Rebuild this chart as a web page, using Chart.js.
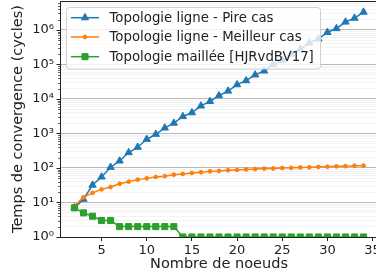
<!DOCTYPE html>
<html><head><meta charset="utf-8">
<script src="https://cdn.jsdelivr.net/npm/chart.js@4.4.1/dist/chart.umd.min.js"></script>
<style>
html,body{margin:0;padding:0;overflow:hidden;background:#fff;width:376px;height:280px}
#wrap{position:absolute;left:0;top:0;width:378px;height:280px}
</style>
</head><body>
<div id="wrap"><canvas id="c" width="378" height="280"></canvas></div>
<script>
const nodes = [2,3,4,5,6,7,8,9,10,11,12,13,14,15,16,17,18,19,20,21,22,23,24,25,26,27,28,29,30,31,32,33,34];
const worstCase = [7,12.5,32,55,105,160,280,400,680,950,1450,2000,3100,4000,6300,8500,12500,17000,26000,34000,50000,65000,100000,130000,200000,280000,420000,550000,850000,1100000,1700000,2200000,3300000];
const bestCase = [8,14,19,24,28,35,40,46,50,55,58,64,67,72,75,80,82,86,88,91,93,96,97,100,101,104,105,108,109,112,113,116,117];
const meshed = [7,5,4,3,3,2,2,2,2,2,2,2,1,1,1,1,1,1,1,1,1,1,1,1,1,1,1,1,1,1,1,1,1];
const seriesLabels = ['Topologie ligne - Pire cas','Topologie ligne - Meilleur cas','Topologie maillée [HJRvdBV17]'];
const xTicks = [5,10,15,20,25,30,35];
const yDecades = [0,1,2,3,4,5,6];
const xTitle = 'Nombre de noeuds';
const yTitle = 'Temps de convergence (cycles)';

const colors = ['#1f77b4','#ff7f0e','#2ca02c'];
const styles = ['triangle','circle','rect'];
const radii = [4.2,1.9,4.3];
const SUP = {'0':'⁰','1':'¹','2':'²','3':'³','4':'⁴','5':'⁵','6':'⁶','7':'⁷','8':'⁸','9':'⁹'};
const isPow10 = v => Math.abs(Math.log10(v) - Math.round(Math.log10(v))) < 1e-9;

Chart.defaults.font.family = 'DejaVu Sans';
Chart.defaults.color = '#222';

const minorTicks = [];
for (const d of yDecades) for (let m = 1; m <= 9; m++) { const v = m * Math.pow(10, d); if (v <= 6.9e6) minorTicks.push(v); }

function drawMarker(ctx, style, x, y, r, color) {
  ctx.save();
  ctx.fillStyle = color; ctx.strokeStyle = color; ctx.lineWidth = 1;
  ctx.beginPath();
  if (style === 'triangle') {
    let a = 0;
    ctx.moveTo(x + Math.sin(a) * r, y - Math.cos(a) * r);
    a += 2 * Math.PI / 3; ctx.lineTo(x + Math.sin(a) * r, y - Math.cos(a) * r);
    a += 2 * Math.PI / 3; ctx.lineTo(x + Math.sin(a) * r, y - Math.cos(a) * r);
    ctx.closePath();
  } else if (style === 'circle') {
    ctx.arc(x, y, r, 0, Math.PI * 2);
  } else {
    const s = r * Math.SQRT1_2;
    ctx.rect(x - s, y - s, 2 * s, 2 * s);
  }
  ctx.fill(); ctx.stroke();
  ctx.restore();
}

const decorPlugin = {
  id: 'decor',
  afterDraw(chart) {
    const ctx = chart.ctx, ca = chart.chartArea, ys = chart.scales.y;
    ctx.save();
    ctx.strokeStyle = '#222'; ctx.lineWidth = 1;
    ctx.beginPath(); ctx.moveTo(ca.left, ca.top + 0.5); ctx.lineTo(ca.right, ca.top + 0.5); ctx.stroke();
    for (const v of minorTicks) {
      const py = Math.round(ys.getPixelForValue(v)) + 0.5;
      const len = isPow10(v) ? 3.5 : 2;
      ctx.lineWidth = isPow10(v) ? 1 : 0.7;
      ctx.beginPath(); ctx.moveTo(ca.left, py); ctx.lineTo(ca.left - len, py); ctx.stroke();
    }
    const bx = 66.5, by = 7.5, bw = 254, bh = 61.5, rr = 3;
    ctx.beginPath();
    ctx.moveTo(bx + rr, by); ctx.lineTo(bx + bw - rr, by); ctx.arcTo(bx + bw, by, bx + bw, by + rr, rr);
    ctx.lineTo(bx + bw, by + bh - rr); ctx.arcTo(bx + bw, by + bh, bx + bw - rr, by + bh, rr);
    ctx.lineTo(bx + rr, by + bh); ctx.arcTo(bx, by + bh, bx, by + bh - rr, rr);
    ctx.lineTo(bx, by + rr); ctx.arcTo(bx, by, bx + rr, by, rr);
    ctx.closePath();
    ctx.fillStyle = 'rgba(255,255,255,0.8)'; ctx.fill();
    ctx.strokeStyle = '#d0d0d0'; ctx.lineWidth = 1; ctx.stroke();
    const rows = [17.7, 37, 56.7];
    ctx.font = '13.3px "DejaVu Sans"'; ctx.textBaseline = 'middle'; ctx.textAlign = 'left';
    for (let i = 0; i < 3; i++) {
      ctx.strokeStyle = colors[i]; ctx.lineWidth = 1.5;
      ctx.beginPath(); ctx.moveTo(71, rows[i]); ctx.lineTo(99, rows[i]); ctx.stroke();
      drawMarker(ctx, styles[i], 85, rows[i], radii[i], colors[i]);
      ctx.fillStyle = '#222';
      ctx.fillText(seriesLabels[i], 109.5, rows[i] + 0.5);
    }
    ctx.restore();
  }
};

const series = [worstCase, bestCase, meshed];
new Chart(document.getElementById('c'), {
  type: 'line',
  data: {
    datasets: series.map((s, i) => ({
      label: seriesLabels[i],
      data: nodes.map((n, k) => ({x: n, y: s[k]})),
      borderColor: colors[i], backgroundColor: colors[i],
      pointBackgroundColor: colors[i], pointBorderColor: colors[i],
      pointStyle: styles[i], pointRadius: radii[i], pointBorderWidth: 1,
      borderWidth: 1.5, tension: 0, fill: false, order: 3 - i, clip: 0
    }))
  },
  options: {
    responsive: false, animation: false, devicePixelRatio: 1,
    layout: {autoPadding: false, padding: {top: 1, left: 0, right: 0, bottom: 0}},
    plugins: {legend: {display: false}, tooltip: {enabled: false}},
    scales: {
      x: {
        type: 'linear', min: 0.4, max: 35.6,
        afterBuildTicks: s => { s.ticks = xTicks.map(v => ({value: v})); },
        afterFit: s => { s.height = 43; s.paddingLeft = 0; s.paddingRight = 0; s.paddingTop = 0; s.paddingBottom = 0; },
        grid: {display: true, drawOnChartArea: false, drawTicks: true, tickLength: 4, tickColor: '#222'},
        border: {display: true, color: '#222', width: 1},
        ticks: {font: {size: 13}, padding: 2, color: '#222', maxRotation: 0, autoSkip: false},
        title: {display: true, text: xTitle, font: {size: 14.5}, color: '#222', padding: {top: 0, bottom: 7}}
      },
      y: {
        type: 'logarithmic', min: 1, max: 6.9e6,
        afterBuildTicks: s => { s.ticks = minorTicks.map(v => ({value: v})); },
        afterFit: s => { s.width = 60; s.paddingLeft = 0; s.paddingRight = 0; s.paddingTop = 0; s.paddingBottom = 0; },
        grid: {display: true, drawTicks: false, color: c => (c.tick && isPow10(c.tick.value)) ? '#b8b8b8' : '#f0f0f0', lineWidth: c => (c.tick && isPow10(c.tick.value)) ? 1 : 0.8},
        border: {display: true, color: '#222', width: 1},
        ticks: {font: {size: 13}, padding: 6, color: '#222', autoSkip: false,
          callback: v => isPow10(v) ? '10' + String(Math.round(Math.log10(v))).split('').map(c => SUP[c]).join('') : ''},
        title: {display: true, text: yTitle, font: {size: 14.5}, color: '#222', padding: {top: 10, bottom: 0}}
      }
    }
  },
  plugins: [decorPlugin]
});
</script>
</body></html>
